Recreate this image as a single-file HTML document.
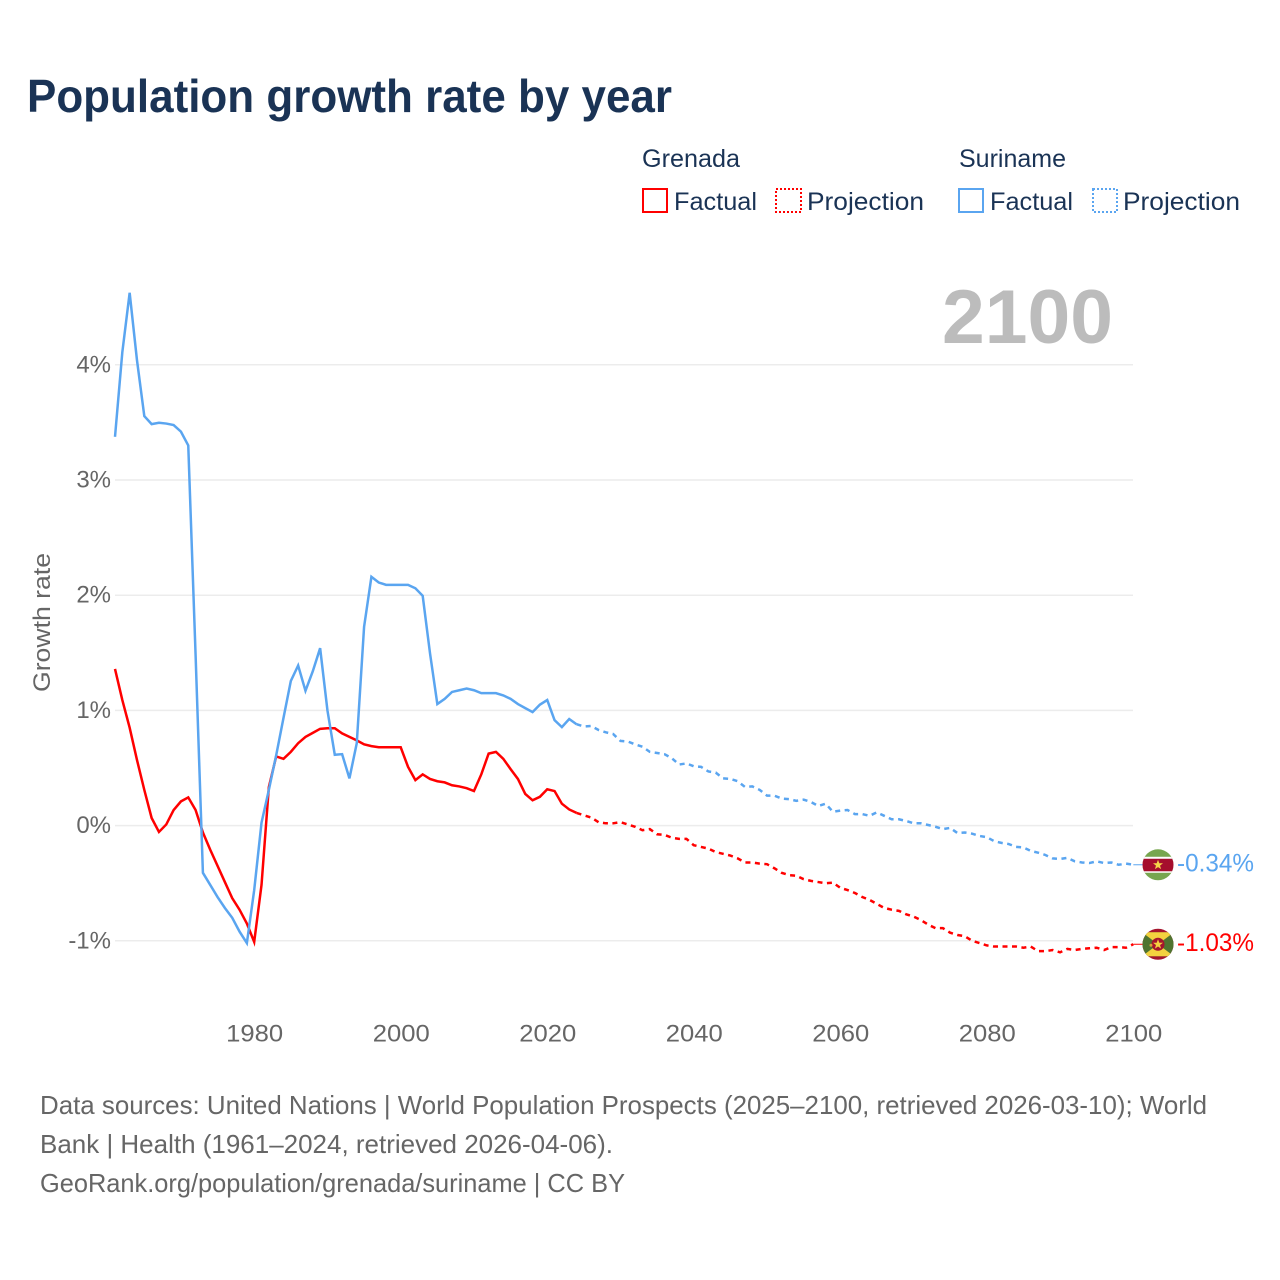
<!DOCTYPE html>
<html lang="en">
<head>
<meta charset="utf-8">
<title>Population growth rate by year</title>
<style>
html,body{margin:0;padding:0;background:#fff;width:1280px;height:1280px;overflow:hidden}
svg{display:block}
text{font-family:"Liberation Sans",sans-serif}
</style>
</head>
<body>
<svg id="chart" xmlns="http://www.w3.org/2000/svg" width="1280" height="1280" viewBox="0 0 1280 1280">
  <rect width="1280" height="1280" fill="#fff"/>
  <text x="27" y="112" font-size="46" font-weight="700" fill="#1a3355" textLength="645" lengthAdjust="spacingAndGlyphs">Population growth rate by year</text>

  <g font-size="25" fill="#1a3355">
    <text x="642" y="167" textLength="98" lengthAdjust="spacingAndGlyphs">Grenada</text>
    <rect x="643" y="189" width="24" height="23" fill="none" stroke="#ff0000" stroke-width="2"/>
    <text x="674" y="210" textLength="83" lengthAdjust="spacingAndGlyphs">Factual</text>
    <rect x="776" y="189" width="25" height="23" fill="none" stroke="#ff0000" stroke-width="2" stroke-dasharray="2 2"/>
    <text x="807" y="210" textLength="117" lengthAdjust="spacingAndGlyphs">Projection</text>
    <text x="959" y="167" textLength="107" lengthAdjust="spacingAndGlyphs">Suriname</text>
    <rect x="959" y="189" width="24" height="23" fill="none" stroke="#5aa5f0" stroke-width="2"/>
    <text x="990" y="210" textLength="83" lengthAdjust="spacingAndGlyphs">Factual</text>
    <rect x="1093" y="189" width="24" height="23" fill="none" stroke="#5aa5f0" stroke-width="2" stroke-dasharray="2 2"/>
    <text x="1123" y="210" textLength="117" lengthAdjust="spacingAndGlyphs">Projection</text>
  </g>

  <g id="grid"></g>
  <g id="yticks"></g>
  <g id="xticks"></g>
  <text transform="translate(50,692) rotate(-90)" font-size="24" fill="#666" textLength="139" lengthAdjust="spacingAndGlyphs">Growth rate</text>
  <text x="942" y="343" font-size="76" font-weight="700" fill="#bcbcbc" textLength="171" lengthAdjust="spacingAndGlyphs">2100</text>

  <g id="series"></g>

  <defs>
    <clipPath id="flag-clip"><circle cx="0" cy="0" r="15.5"/></clipPath>
  </defs>

  <g id="flag-suriname">
    <g clip-path="url(#flag-clip)">
      <rect x="-16" y="-16" width="32" height="32" fill="#77a64f"/>
      <rect x="-16" y="-8" width="32" height="16" fill="#fff"/>
      <rect x="-16" y="-6" width="32" height="12.5" fill="#a50e2d"/>
      <polygon points="0,-5 1.3,-1.5 5,-1.5 2,0.8 3.1,4.4 0,2.3 -3.1,4.4 -2,0.8 -5,-1.5 -1.3,-1.5" fill="#f5d44a"/>
    </g>
  </g>

  <g id="flag-grenada">
    <g clip-path="url(#flag-clip)">
      <rect x="-16" y="-16" width="32" height="32" fill="#a5152d"/>
      <rect x="-16" y="-12" width="32" height="24" fill="#4f7430"/>
      <polygon points="-16,-12 16,-12 0,0" fill="#f3d23f"/>
      <polygon points="-16,12 16,12 0,0" fill="#f3d23f"/>
      <circle cx="0" cy="0" r="6.5" fill="#a5152d"/>
      <polygon points="0,-5 1.3,-1.5 5,-1.5 2,0.8 3.1,4.4 0,2.3 -3.1,4.4 -2,0.8 -5,-1.5 -1.3,-1.5" fill="#f3d23f"/>
      <circle cx="-7" cy="1" r="1.5" fill="#d9a23a"/>
    </g>
  </g>

  <text id="end-label-suriname" x="1177" font-size="25" fill="#5aa5f0" textLength="77" lengthAdjust="spacingAndGlyphs"></text>
  <text id="end-label-grenada" x="1177" font-size="25" fill="#ff0000" textLength="77" lengthAdjust="spacingAndGlyphs"></text>

  <g font-size="26" fill="#666">
    <text x="40" y="1114" textLength="1167" lengthAdjust="spacingAndGlyphs">Data sources: United Nations | World Population Prospects (2025–2100, retrieved 2026-03-10); World</text>
    <text x="40" y="1153" textLength="573" lengthAdjust="spacingAndGlyphs">Bank | Health (1961–2024, retrieved 2026-04-06).</text>
    <text x="40" y="1192" textLength="585" lengthAdjust="spacingAndGlyphs">GeoRank.org/population/grenada/suriname | CC BY</text>
  </g>
</svg>
<script>
const factualStartYear = 1961;
const projectionStartYear = 2024;
const xTickYears = [1980, 2000, 2020, 2040, 2060, 2080, 2100];
const yTickValues = [-1, 0, 1, 2, 3, 4];

const grenadaFactual = [
  1.36,1.09,.85,.57,.31,.066,-.055,.01,.135,.21,.245,.135,-.06,-.21,-.35,-.49,-.63,-.73,-.85,-1.01,
  -.515,.335,.60,.58,.64,.715,.77,.805,.84,.845,.845,.80,.77,.74,.705,.69,.68,.68,.68,.68,
  .51,.395,.445,.405,.385,.375,.35,.34,.325,.30,.445,.625,.64,.58,.49,.405,.275,.22,.25,.315,
  .30,.19,.14,.11
];
const grenadaProjection = [
  .11,.09,.07,.03,.02,.02,.03,.01,-.01,-.04,-.03,-.075,-.08,-.105,-.115,-.115,
  -.17,-.185,-.20,-.23,-.245,-.26,-.285,-.32,-.32,-.33,-.335,-.37,-.41,-.43,-.435,-.465,-.48,-.49,-.50,-.495,
  -.54,-.56,-.585,-.62,-.645,-.68,-.715,-.73,-.74,-.77,-.79,-.82,-.86,-.89,-.89,-.93,-.95,-.96,-1.0,-1.02,
  -1.04,-1.05,-1.05,-1.05,-1.05,-1.06,-1.05,-1.09,-1.09,-1.08,-1.10,-1.07,-1.08,-1.07,-1.065,-1.06,-1.08,-1.055,-1.055,-1.06,-1.03
];
const surinameFactual = [
  3.375,4.11,4.625,4.04,3.555,3.485,3.497,3.49,3.477,3.42,3.30,1.48,-.41,-.515,-.62,-.715,-.80,-.92,-1.02,-.56,
  .025,.31,.61,.935,1.255,1.39,1.17,1.34,1.54,1.0,.615,.62,.41,.715,1.725,2.16,2.11,2.09,2.09,2.09,
  2.09,2.06,1.995,1.495,1.055,1.10,1.16,1.175,1.19,1.175,1.15,1.15,1.15,1.13,1.10,1.055,1.02,.985,1.05,1.09,
  .915,.855,.925,.88
];
const surinameProjection = [
  .88,.86,.865,.83,.81,.795,.735,.73,.705,.685,.64,.63,.62,.585,.53,.54,
  .515,.51,.47,.46,.41,.405,.385,.335,.34,.31,.26,.26,.235,.23,.215,.225,.205,.17,.19,.12,
  .13,.135,.10,.10,.085,.115,.085,.055,.055,.04,.02,.02,.005,-.01,-.03,-.02,-.065,-.06,-.07,-.09,
  -.10,-.135,-.15,-.16,-.185,-.19,-.22,-.235,-.255,-.285,-.29,-.28,-.31,-.32,-.325,-.31,-.325,-.32,-.34,-.33,-.34
];
const grenadaColor = '#ff0000';
const surinameColor = '#5aa5f0';

const SVG_NS = 'http://www.w3.org/2000/svg';
function xScale(year) { return 115 + (year - 1961) * 7.326; }
function yScale(value) { return 825.6 - value * 115.2; }
function pathFrom(values, startYear) {
  return values.map(function (v, i) {
    return (i ? 'L' : 'M') + xScale(startYear + i).toFixed(2) + ' ' + yScale(v).toFixed(2);
  }).join('');
}
function make(tag, attrs, parent) {
  const el = document.createElementNS(SVG_NS, tag);
  Object.keys(attrs).forEach(function (k) { el.setAttribute(k, attrs[k]); });
  parent.appendChild(el);
  return el;
}

const grid = document.getElementById('grid');
const yticks = document.getElementById('yticks');
const xticks = document.getElementById('xticks');
const series = document.getElementById('series');

yTickValues.forEach(function (v) {
  const line = make('line', { x1: 115, x2: 1133, y1: yScale(v), y2: yScale(v), stroke: '#ececec', 'stroke-width': 1.5 }, grid);
  
  
  const label = make('text', { x: 111, y: yScale(v) + 7.5, 'text-anchor': 'end', 'font-size': 24, fill: '#666' }, yticks);
  
  
  label.textContent = v + '%';
});

xTickYears.forEach(function (y) {
  const label = make('text', { x: xScale(y) + 0.5, y: 1041.5, 'text-anchor': 'middle', 'font-size': 24, fill: '#666', textLength: 57, lengthAdjust: 'spacingAndGlyphs' }, xticks);
  
  
  label.textContent = y;
});

function drawSeries(factual, projection, color, nameBase) {
  const proj = make('path', { d: pathFrom(projection, projectionStartYear), fill: 'none', stroke: color, 'stroke-width': 2.5, 'stroke-dasharray': '5 4.5' }, series);
  
  
  const fact = make('path', { d: pathFrom(factual, factualStartYear), fill: 'none', stroke: color, 'stroke-width': 2.5, 'stroke-linejoin': 'miter' }, series);
  
  
  const last = projection[projection.length - 1];
  const conn = make('line', { x1: xScale(2100), x2: 1143, y1: yScale(last), y2: yScale(last), stroke: color, 'stroke-width': 1 }, series);
  
  
  return last;
}

const lastGrenada = drawSeries(grenadaFactual, grenadaProjection, grenadaColor, 'grenada');
const lastSuriname = drawSeries(surinameFactual, surinameProjection, surinameColor, 'suriname');

document.getElementById('flag-suriname').setAttribute('transform', 'translate(1158,' + yScale(lastSuriname) + ')');
document.getElementById('flag-grenada').setAttribute('transform', 'translate(1158,' + yScale(lastGrenada) + ')');

const endS = document.getElementById('end-label-suriname');
endS.setAttribute('y', yScale(lastSuriname) + 6.5);
endS.textContent = lastSuriname.toFixed(2) + '%';
const endG = document.getElementById('end-label-grenada');
endG.setAttribute('y', yScale(lastGrenada) + 6.5);
endG.textContent = lastGrenada.toFixed(2) + '%';
</script>
</body>
</html>
